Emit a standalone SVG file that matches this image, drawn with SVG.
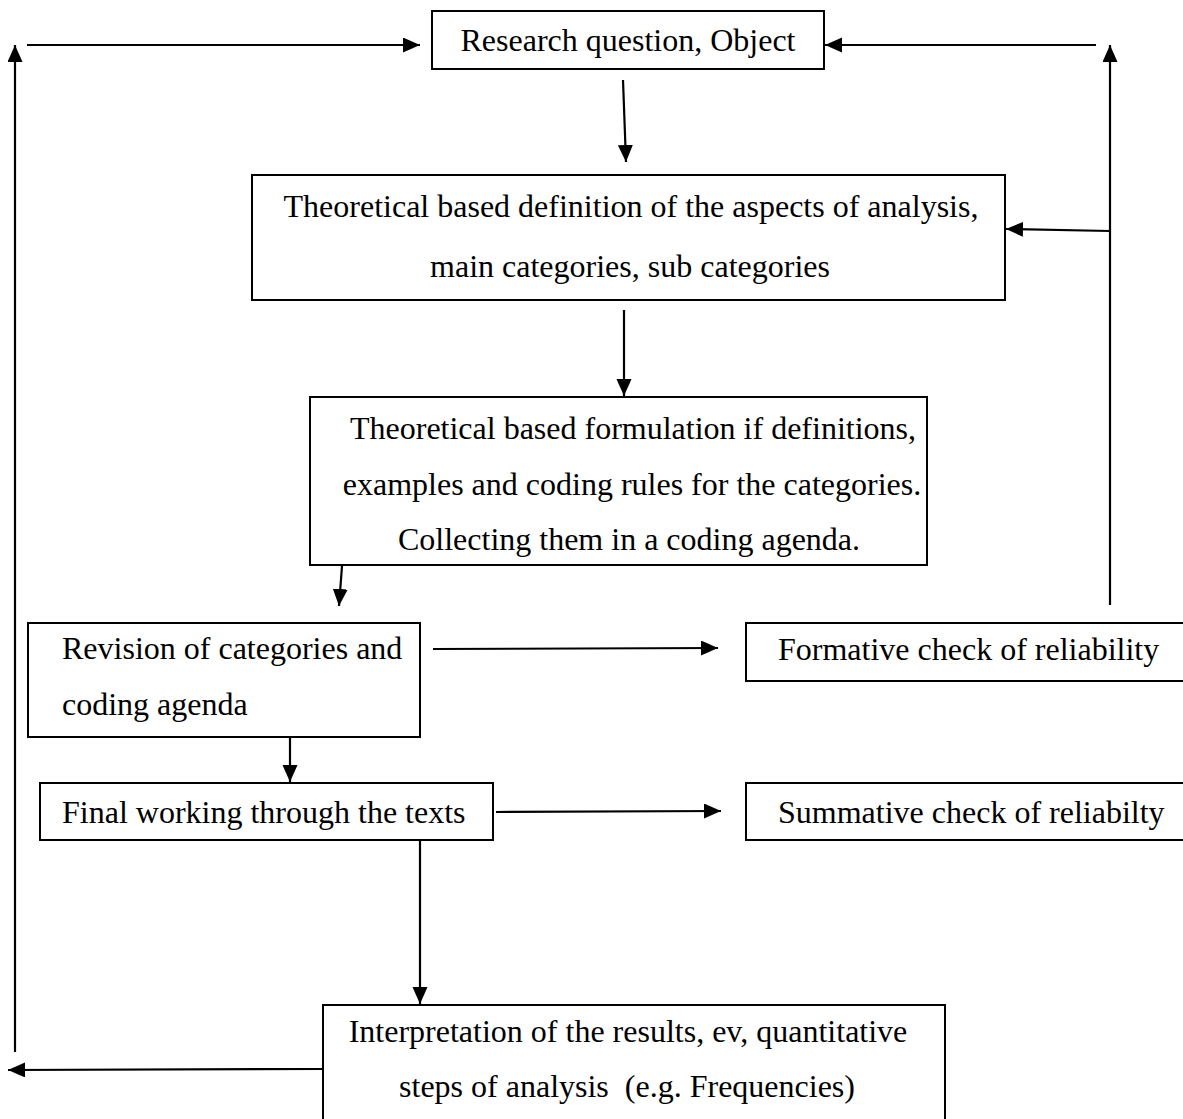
<svg xmlns="http://www.w3.org/2000/svg" width="1183" height="1119" viewBox="0 0 1183 1119">
<style>
.box{fill:#fff;stroke:#000;stroke-width:2}
.t{font-family:"Liberation Serif","Times New Roman",serif;font-size:32px;fill:#000}
.c{text-anchor:middle}
.ln{fill:none;stroke:#000;stroke-width:2.2;marker-end:url(#ah)}
</style>
<defs>
<marker id="ah" markerUnits="userSpaceOnUse" markerWidth="18" markerHeight="16" refX="17" refY="7.5" orient="auto">
<path d="M0,0 L17,7.5 L0,15 z" fill="#000"/>
</marker>
</defs>
<rect width="1183" height="1119" fill="#fff"/>
<g id="n1"><rect class="box" x="432" y="11" width="392" height="58"/><text class="t c" x="628" y="51">Research question, Object</text></g>
<g id="n2"><rect class="box" x="252" y="175" width="753" height="125"/><text class="t c" x="631" y="217">Theoretical based definition of the aspects of analysis,</text><text class="t c" x="630" y="277">main categories, sub categories</text></g>
<g id="n3"><rect class="box" x="310" y="397" width="617" height="168"/><text class="t c" x="633" y="439">Theoretical based formulation if definitions,</text><text class="t c" x="632" y="495">examples and coding rules for the categories.</text><text class="t c" x="629" y="550">Collecting them in a coding agenda.</text></g>
<g id="n4"><rect class="box" x="28" y="623" width="392" height="114"/><text class="t" x="62" y="659">Revision of categories and</text><text class="t" x="62" y="715">coding agenda</text></g>
<g id="n5"><rect class="box" x="746" y="623" width="440" height="58"/><text class="t" x="778" y="660">Formative check of reliability</text></g>
<g id="n6"><rect class="box" x="40" y="783" width="453" height="57"/><text class="t" x="62" y="823">Final working through the texts</text></g>
<g id="n7"><rect class="box" x="746" y="783" width="440" height="57"/><text class="t" x="778" y="823">Summative check of reliabilty</text></g>
<g id="n8"><rect class="box" x="323" y="1005" width="622" height="120"/><text class="t c" x="628" y="1042">Interpretation of the results, ev, quantitative</text><text class="t c" x="627" y="1097" xml:space="preserve">steps of analysis  (e.g. Frequencies)</text></g>
<g id="connectors">
<line class="ln" x1="623" y1="80" x2="626" y2="162"/>
<line class="ln" x1="624" y1="310" x2="624" y2="396"/>
<line class="ln" x1="342" y1="566" x2="339" y2="606"/>
<line class="ln" x1="433" y1="649" x2="718" y2="648"/>
<line class="ln" x1="290" y1="737" x2="290" y2="782"/>
<line class="ln" x1="496" y1="812" x2="721" y2="811"/>
<line class="ln" x1="420" y1="840" x2="420" y2="1004"/>
<line class="ln" x1="323" y1="1069" x2="8" y2="1070"/>
<line class="ln" x1="15" y1="1052" x2="15" y2="45"/>
<line class="ln" x1="27" y1="45" x2="420" y2="45"/>
<line class="ln" x1="1110" y1="605" x2="1110" y2="45"/>
<line class="ln" x1="1096" y1="45" x2="825" y2="45"/>
<line class="ln" x1="1110" y1="231" x2="1006" y2="229"/>
</g>
</svg>
